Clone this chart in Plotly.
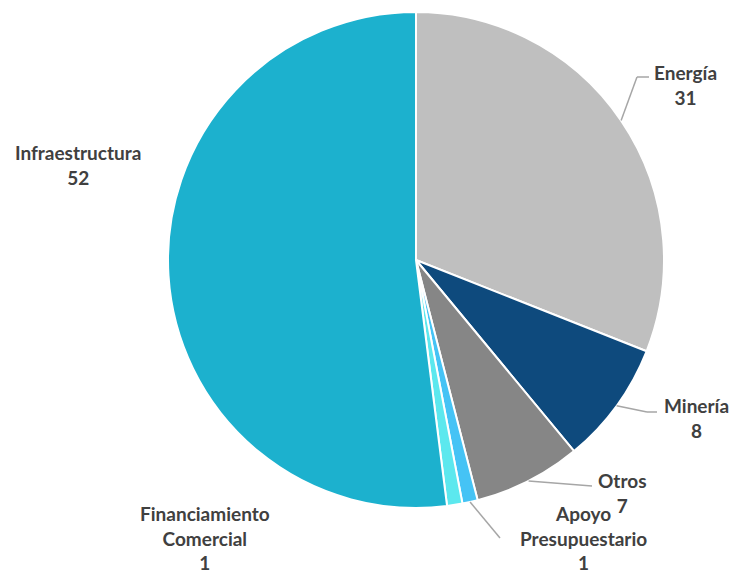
import math

import plotly.graph_objects as go

labels = ["Energía", "Minería", "Otros", "Apoyo Presupuestario", "Financiamiento Comercial", "Infraestructura"]
values = [31, 8, 7, 1, 1, 52]
colors = ["#BFBFBF", "#0E4A7D", "#868686", "#45C3F5", "#5CE8EE", "#1CB1CE"]
label_lines = [["Energía", "31"], ["Minería", "8"], ["Otros", "7"],
               ["Apoyo", "Presupuestario", "1"], ["Financiamiento", "Comercial", "1"],
               ["Infraestructura", "52"]]

W, H = 734, 573
CX, CY, R = 416, 260, 248

# label text centre (px) and leader elbow points; None = no leader
label_pos = [(685, 85), (696, 418), (622, 493), (583, 538), (205, 538), (78, 165)]
elbows = [[(637, 77), (649, 77)], [(647, 412), (657, 412)], [(592, 486)],
          [(500, 538)], None, None]


def px(x, y):
    return x / W, 1 - y / H


d0 = px(CX - R, CY + R)
d1 = px(CX + R, CY - R)

fig = go.Figure(
    go.Pie(
        labels=labels,
        values=values,
        sort=False,
        direction="clockwise",
        rotation=0,
        marker=dict(colors=colors, line=dict(color="white", width=2)),
        textinfo="none",
        hoverinfo="label+value",
        domain=dict(x=[d0[0], d1[0]], y=[d0[1], d1[1]]),
        showlegend=False,
    )
)

total = sum(values)
cum = 0
for i, v in enumerate(values):
    mid = (cum + v / 2) / total * 2 * math.pi
    cum += v
    sx, sy = CX + R * math.sin(mid), CY - R * math.cos(mid)
    if elbows[i]:
        pts = [(sx, sy)] + elbows[i]
        for (x0, y0), (x1, y1) in zip(pts[:-1], pts[1:]):
            a0, b0 = px(x0, y0)
            a1, b1 = px(x1, y1)
            fig.add_shape(type="line", xref="paper", yref="paper", x0=a0, y0=b0, x1=a1, y1=b1,
                          line=dict(color="#A6A6A6", width=1.5))
    lx, ly = px(*label_pos[i])
    fig.add_annotation(
        x=lx, y=ly, xref="paper", yref="paper", showarrow=False,
        xanchor="center", yanchor="middle",
        text="<br>".join(label_lines[i]), align="center",
        font=dict(family="Lato", size=19, color="#404040", weight="bold"),
    )

fig.update_layout(
    width=W, height=H,
    margin=dict(l=0, r=0, t=0, b=0),
    paper_bgcolor="white",
    plot_bgcolor="white",
)

# drop the default page margin so the figure fills the window exactly
fig.write_html(
    "out.html",
    config={"displayModeBar": False},
    post_script="document.body.style.margin='0';document.body.style.overflow='hidden';",
)
